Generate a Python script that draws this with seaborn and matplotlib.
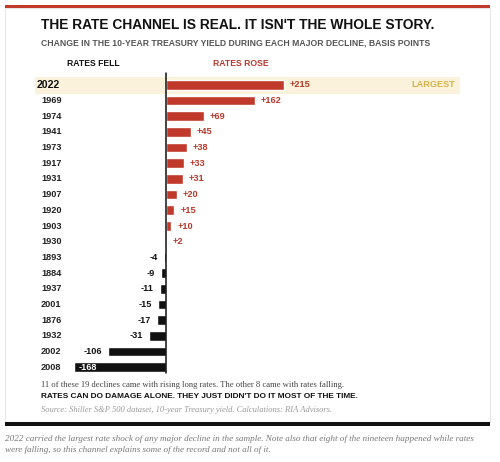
import pandas as pd
import matplotlib
matplotlib.use("Agg")
import matplotlib.pyplot as plt
import matplotlib.transforms as mtransforms
from matplotlib.patches import Rectangle
import seaborn as sns

# data
years = ["2022", "1969", "1974", "1941", "1973", "1917", "1931", "1907", "1920", "1903",
         "1930", "1893", "1884", "1937", "2001", "1876", "1932", "2002", "2008"]
bp_change = [215, 162, 69, 45, 38, 33, 31, 20, 15, 10, 2, -4, -9, -11, -15, -17, -31, -106, -168]

RED = "#c0392b"
RED_TXT = "#b5392c"
BLACK = "#111111"
GOLD = "#d6b24c"
SANS = "Liberation Sans"
SERIF = "Liberation Serif"

W, H = 500, 462


def fx(px):
    return px / W


def fy(px):
    return 1 - px / H


df = pd.DataFrame({"year": years, "bp": bp_change})
df["direction"] = ["rose" if v > 0 else "fell" for v in df["bp"]]

sns.set_style("white")
plt.rcParams["font.family"] = [SANS, "DejaVu Sans"]

fig = plt.figure(figsize=(5, 4.62), dpi=100)
fig.patch.set_facecolor("white")

# card frame, top red rule and bottom black rule
fig.patches.append(Rectangle((fx(5), fy(422)), fx(490) - fx(5), fy(8) - fy(422),
                             transform=fig.transFigure, facecolor="white",
                             edgecolor="#e6e6e6", lw=0.8, zorder=-5))
fig.patches.append(Rectangle((fx(5), fy(8)), fx(490) - fx(5), 3 / H,
                             transform=fig.transFigure, facecolor=RED, edgecolor="none", zorder=-4))
fig.patches.append(Rectangle((fx(5), fy(426)), fx(490) - fx(5), 4 / H,
                             transform=fig.transFigure, facecolor=BLACK, edgecolor="none", zorder=-4))

# axes region: x 35..460 px, y 77..375 px
ax = fig.add_axes([fx(35), fy(375), fx(460) - fx(35), fy(77) - fy(375)])
ax.set_facecolor("none")
ax.set_zorder(2)

zero_px, scale = 166, 0.549

# highlight band for 2022
ax.axhspan(-0.5, 0.5, color="#faf2da", zorder=0)

sns.barplot(data=df, x="bp", y="year", hue="direction", order=years, orient="h",
            palette={"rose": RED, "fell": BLACK}, dodge=False, legend=False,
            saturation=1, width=0.62, ax=ax, zorder=2)

ax.set_xlim((35 - zero_px) / scale, (460 - zero_px) / scale)
ax.set_ylim(18.5, -0.5)
ax.axvline(0, ymin=0.008, ymax=1 + 4 / 298, color=BLACK, lw=1.1, clip_on=False, zorder=3)

for s in ax.spines.values():
    s.set_visible(False)
ax.set_xticks([])
ax.set_yticks([])
ax.set_xlabel("")
ax.set_ylabel("")

# year labels on the left
lab_tr = mtransforms.blended_transform_factory(fig.transFigure, ax.transData)
for i, (yr, v) in enumerate(zip(years, bp_change)):
    if i == 0:
        ax.text(fx(37), i, yr, transform=lab_tr, ha="left", va="center",
                fontsize=7.6, fontweight="bold", color=BLACK)
    else:
        ax.text(fx(41), i, yr, transform=lab_tr, ha="left", va="center",
                fontsize=6.6, fontweight="bold", color="#222222")
    gap = 6 / scale
    if v > 0:
        ax.text(v + gap, i, f"+{v}", ha="left", va="center", fontsize=6.6,
                fontweight="bold", color=RED_TXT)
    elif v < -150:
        ax.text(v + 5 / scale, i, f"{v}", ha="left", va="center", fontsize=6.6,
                fontweight="bold", color="white", zorder=4)
    else:
        ax.text(v - gap, i, f"{v}", ha="right", va="center", fontsize=6.6,
                fontweight="bold", color=BLACK)

ax.text(fx(455), 0, "LARGEST", transform=lab_tr, ha="right", va="center",
        fontsize=6.6, fontweight="bold", color=GOLD)

# headings
fig.text(fx(41), fy(25), "THE RATE CHANNEL IS REAL. IT ISN'T THE WHOLE STORY.",
         ha="left", va="center", fontsize=9.9, fontweight="bold", color=BLACK)
fig.text(fx(41), fy(43), "CHANGE IN THE 10-YEAR TREASURY YIELD DURING EACH MAJOR DECLINE, BASIS POINTS",
         ha="left", va="center", fontsize=6.2, fontweight="bold", color="#555555")
fig.text(fx(93), fy(64), "RATES FELL", ha="center", va="center", fontsize=6.2,
         fontweight="bold", color=BLACK)
fig.text(fx(241), fy(64), "RATES ROSE", ha="center", va="center", fontsize=6.2,
         fontweight="bold", color=RED_TXT)

# footnotes
fig.text(fx(41), fy(385), "11 of these 19 declines came with rising long rates. The other 8 came with rates falling.",
         ha="left", va="center", fontsize=6.25, color="#444444", family=SERIF)
fig.text(fx(41), fy(396), "RATES CAN DO DAMAGE ALONE. THEY JUST DIDN'T DO IT MOST OF THE TIME.",
         ha="left", va="center", fontsize=5.95, fontweight="bold", color=BLACK)
fig.text(fx(41), fy(410), "Source: Shiller S&P 500 dataset, 10-year Treasury yield. Calculations: RIA Advisors.",
         ha="left", va="center", fontsize=6.1, style="italic", color="#999999", family=SERIF)

# caption under the card
fig.text(fx(5), fy(439), "2022 carried the largest rate shock of any major decline in the sample. "
         "Note also that eight of the nineteen happened while rates",
         ha="left", va="center", fontsize=6.6, style="italic", color="#777777", family=SERIF)
fig.text(fx(5), fy(450), "were falling, so this channel explains some of the record and not all of it.",
         ha="left", va="center", fontsize=6.6, style="italic", color="#777777", family=SERIF)

fig.savefig("out.png", dpi=100)
